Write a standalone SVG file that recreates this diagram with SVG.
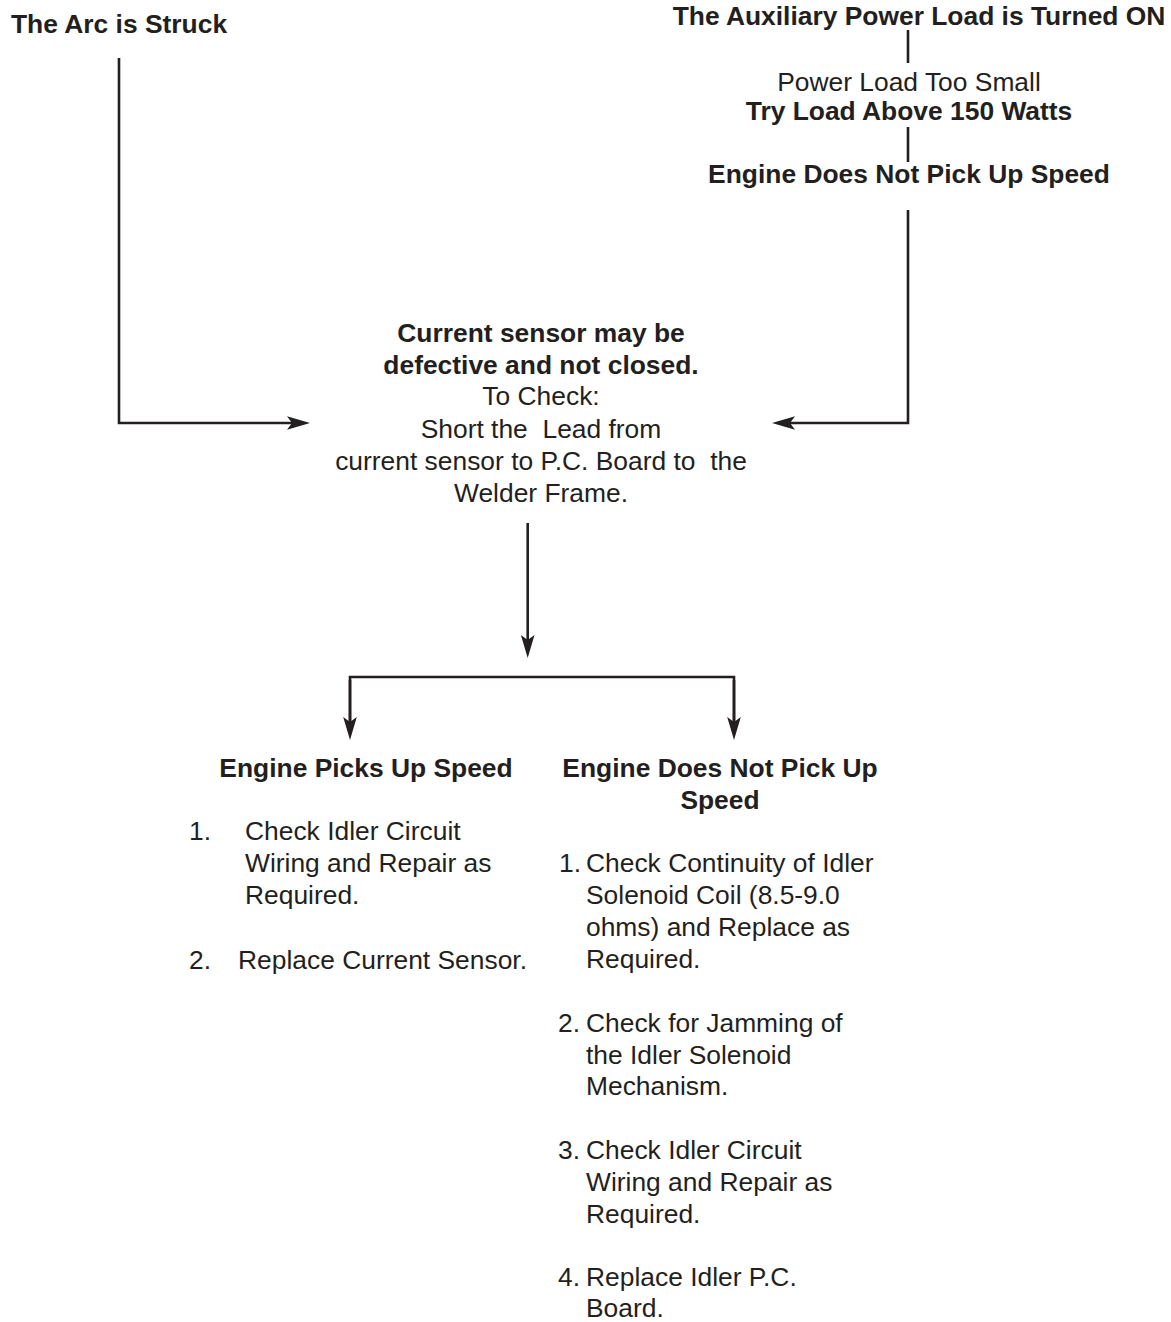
<svg xmlns="http://www.w3.org/2000/svg" width="1171" height="1322" viewBox="0 0 1171 1322">
<style>
text{font-family:"Liberation Sans",Arial,sans-serif;font-size:26.4px;fill:#231f20}
.b{font-weight:bold}
.m{text-anchor:middle}
.ln{stroke:#231f20;stroke-width:2.6;fill:none}
</style>
<defs>
<marker id="ah" viewBox="-25 -8 26 16" refX="-12" refY="0" markerWidth="26" markerHeight="16" markerUnits="userSpaceOnUse" orient="auto">
<path d="M0,0 L-23,-6.8 L-18,0 L-23,6.8 Z" fill="#231f20"/>
</marker>
</defs>
<rect width="1171" height="1322" fill="#fff"/>
<g id="connectors">
<path class="ln" d="M119,58 V423 H298" marker-end="url(#ah)"/>
<path class="ln" d="M908,210 V423 H784" marker-end="url(#ah)"/>
<path class="ln" d="M908,30 V63"/>
<path class="ln" d="M908,127 V162"/>
<path class="ln" d="M527.7,523 V646" marker-end="url(#ah)"/>
<path class="ln" d="M350,728 V677 H734 V728" />
<path class="ln" d="M350,680 V728" marker-end="url(#ah)"/>
<path class="ln" d="M734,680 V728" marker-end="url(#ah)"/>
</g>
<g id="arc-struck"><text class="b" x="11" y="33">The Arc is Struck</text></g>
<g id="aux-load"><text class="b m" x="919" y="25">The Auxiliary Power Load is Turned ON</text></g>
<g id="try-load">
<text class="m" x="909" y="91">Power Load Too Small</text>
<text class="b m" x="909" y="120">Try Load Above 150 Watts</text>
</g>
<g id="no-speed-top"><text class="b m" x="909" y="183">Engine Does Not Pick Up Speed</text></g>
<g id="current-sensor">
<text class="b m" x="541" y="342">Current sensor may be</text>
<text class="b m" x="541" y="374">defective and not closed.</text>
<text class="m" x="541" y="405">To Check:</text>
<text class="m" x="541" y="438" xml:space="preserve">Short the  Lead from</text>
<text class="m" x="541" y="470" xml:space="preserve">current sensor to P.C. Board to  the</text>
<text class="m" x="541" y="502">Welder Frame.</text>
</g>
<g id="picks-up">
<text class="b m" x="366" y="777">Engine Picks Up Speed</text>
<text x="189" y="840">1.</text>
<text x="245" y="840">Check Idler Circuit</text>
<text x="245" y="872">Wiring and Repair as</text>
<text x="245" y="904">Required.</text>
<text x="189" y="969">2.</text>
<text x="238" y="969">Replace Current Sensor.</text>
</g>
<g id="not-pick-up">
<text class="b m" x="720" y="777">Engine Does Not Pick Up</text>
<text class="b m" x="720" y="809">Speed</text>
<text x="559" y="872">1.</text>
<text x="586" y="872">Check Continuity of Idler</text>
<text x="586" y="904">Solenoid Coil (8.5-9.0</text>
<text x="586" y="936">ohms) and Replace as</text>
<text x="586" y="968">Required.</text>
<text x="558" y="1032">2.</text>
<text x="586" y="1032">Check for Jamming of</text>
<text x="586" y="1064">the Idler Solenoid</text>
<text x="586" y="1095">Mechanism.</text>
<text x="558" y="1159">3.</text>
<text x="586" y="1159">Check Idler Circuit</text>
<text x="586" y="1191">Wiring and Repair as</text>
<text x="586" y="1223">Required.</text>
<text x="558" y="1286">4.</text>
<text x="586" y="1286">Replace Idler P.C.</text>
<text x="586" y="1317">Board.</text>
</g>
</svg>
